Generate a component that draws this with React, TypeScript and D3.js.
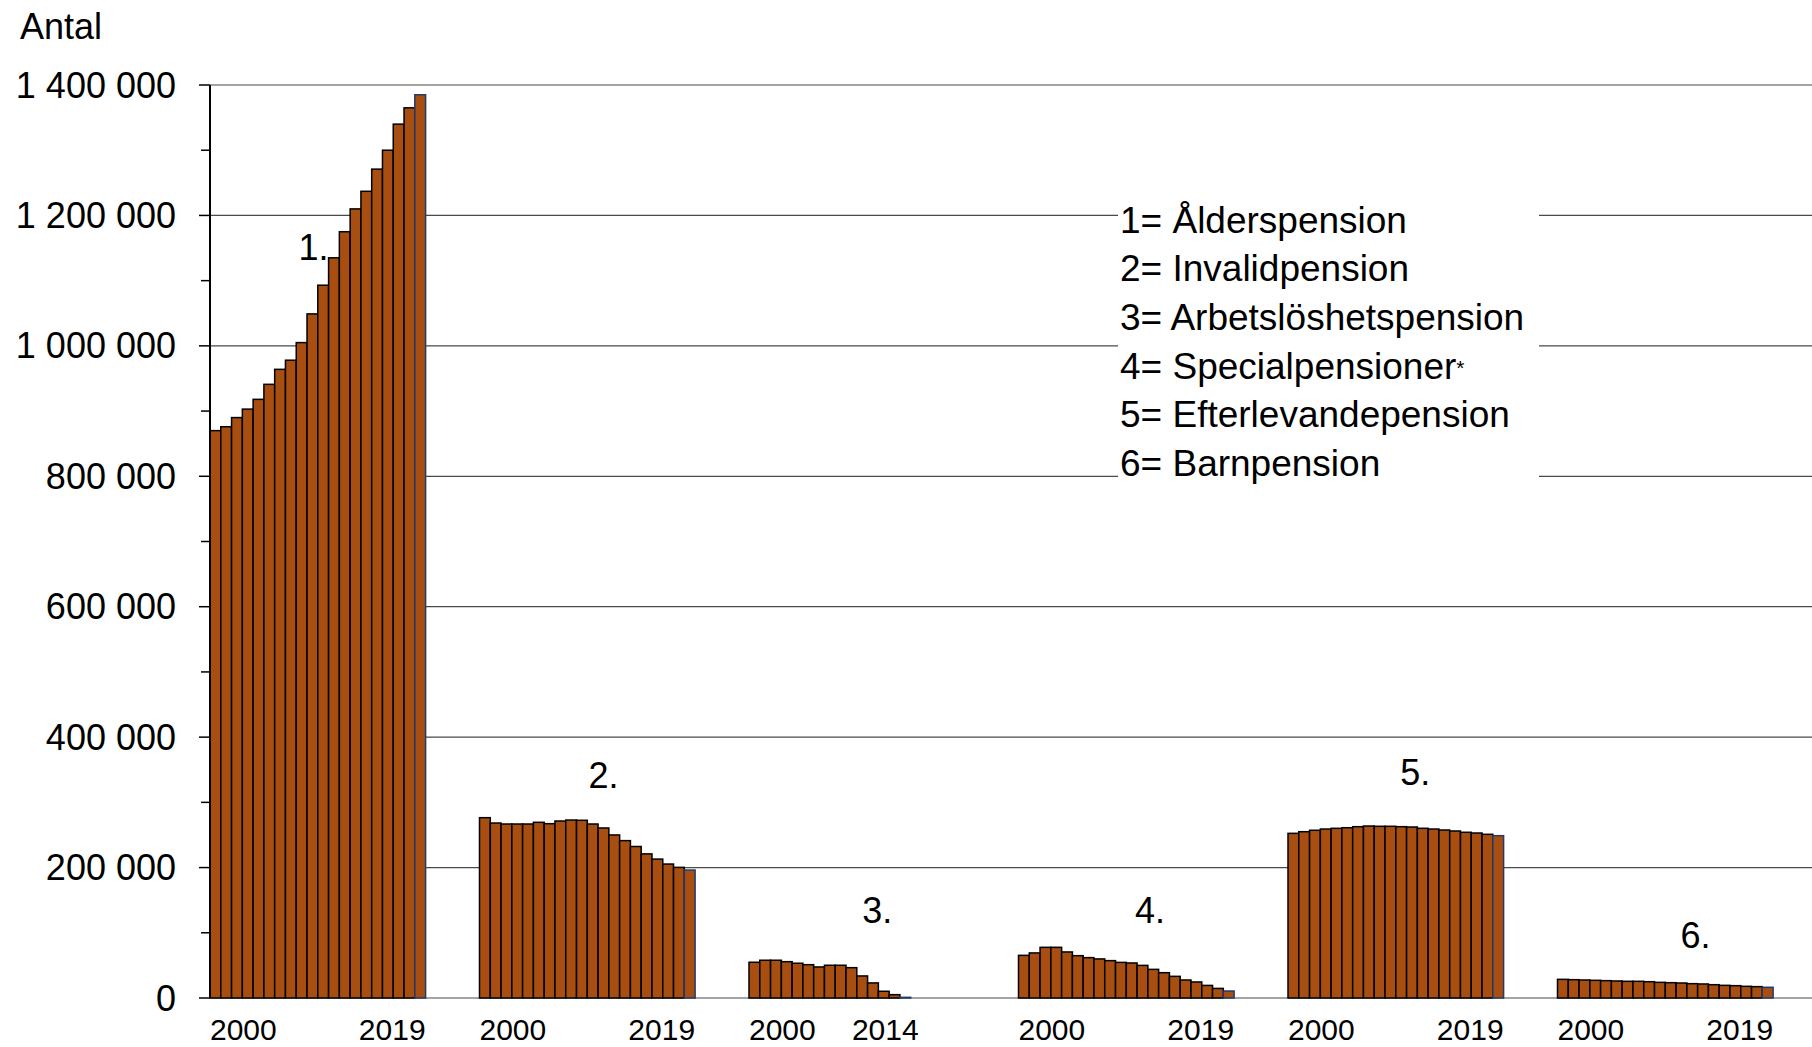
import React from "react";
import * as d3 from "d3";

// ---------- data ----------
const groupNames = ["1.", "2.", "3.", "4.", "5.", "6."];
const legendItems = [
  "1= Ålderspension",
  "2= Invalidpension",
  "3= Arbetslöshetspension",
  "4= Specialpensioner",
  "5= Efterlevandepension",
  "6= Barnpension",
];
const years20 = [
  2000, 2001, 2002, 2003, 2004, 2005, 2006, 2007, 2008, 2009,
  2010, 2011, 2012, 2013, 2014, 2015, 2016, 2017, 2018, 2019,
];
const years15 = [
  2000, 2001, 2002, 2003, 2004, 2005, 2006, 2007, 2008, 2009,
  2010, 2011, 2012, 2013, 2014,
];

const alderspension = [
  870000, 876000, 890000, 903000, 918000, 941000, 964000, 978000, 1005000, 1049000,
  1093000, 1135000, 1175000, 1210000, 1237000, 1271000, 1300000, 1340000, 1365000, 1385000,
];
const invalidpension = [
  276500, 268300, 266800, 266800, 266800, 269400, 267300, 271400, 272900, 272500,
  266800, 260700, 250000, 241300, 232300, 221000, 213000, 205400, 200300, 196200,
];
const arbetsloshetspension = [
  54800, 57900, 57900, 55700, 53300, 51100, 47600, 50200, 50200, 46500,
  33800, 23100, 10300, 5100, 1000,
];
const specialpensioner = [
  65400, 69100, 77700, 77700, 70600, 64900, 61900, 59900, 57300, 54600,
  53700, 50000, 43900, 38800, 33200, 27600, 24600, 19300, 14700, 10700,
];
const efterlevandepension = [
  252500, 255000, 257200, 259100, 260200, 261100, 262700, 263700, 263300, 263300,
  262700, 262200, 260200, 259100, 257600, 256100, 254100, 253000, 251000, 248900,
];
const barnpension = [
  28600, 28100, 27600, 27100, 26600, 26100, 25600, 25600, 25000, 24000,
  23500, 23000, 22000, 21500, 20400, 19400, 18900, 17900, 17400, 16400,
];

const seriesValues = [
  alderspension,
  invalidpension,
  arbetsloshetspension,
  specialpensioner,
  efterlevandepension,
  barnpension,
];
const seriesYears = [years20, years20, years15, years20, years20, years20];

const yTicks = [0, 200000, 400000, 600000, 800000, 1000000, 1200000, 1400000];
const yMinorTicks = [100000, 300000, 500000, 700000, 900000, 1100000, 1300000];

// group label anchors: (slot offset in group, value)
const groupLabelSlot = [9.6, 11.5, 11.9, 12.2, 11.8, 12.8];
const groupLabelValue = [1131600, 322000, 115500, 114500, 327000, 76200];

// ---------- layout ----------
const W = 1812;
const H = 1047;
const SLOTS_PER_GROUP = 25;
const LEFT = 210;
const SLOT_W = 10.78;
const TOP = 85;
const BASE = 998;
const FONT = "'Liberation Sans', Arial, Helvetica, sans-serif";
const BAR_FILL = "#A84E11";

export default function App() {
  const slotKeys: string[] = [];
  groupNames.forEach((_, g) => {
    for (let i = 0; i < SLOTS_PER_GROUP; i++) slotKeys.push(`${g}-${i}`);
  });
  const x = d3
    .scaleBand<string>()
    .domain(slotKeys)
    .range([LEFT, LEFT + slotKeys.length * SLOT_W])
    .paddingInner(0)
    .paddingOuter(0);
  const bw = x.bandwidth();
  const y = d3.scaleLinear().domain([0, 1400000]).range([BASE, TOP]);
  const fmt = (v: number) => d3.format(",")(v).replace(/,/g, " ");

  return (
    <svg
      width={W}
      height={H}
      viewBox={`0 0 ${W} ${H}`}
      style={{ position: "absolute", left: 0, top: 0, background: "#fff" }}
      fontFamily={FONT}
    >
      <rect x={0} y={0} width={W} height={H} fill="#fff" />

      {/* gridlines */}
      {yTicks.map((t) => (
        <line
          key={"g" + t}
          x1={LEFT}
          x2={W}
          y1={y(t)}
          y2={y(t)}
          stroke="#4a4a4a"
          strokeWidth={1.2}
        />
      ))}

      {/* legend box (covers gridlines) */}
      <rect x={1118} y={196} width={421} height={298} fill="#fff" />
      {legendItems.map((txt, i) => (
        <text
          key={"l" + i}
          x={1120}
          y={232.5 + i * 48.7}
          fontSize={37}
          fill="#000"
        >
          {txt}
          {i === 3 ? (
            <tspan fontSize={21} dy={-4}>
              *
            </tspan>
          ) : null}
        </text>
      ))}

      {/* bars */}
      {seriesValues.map((vals, g) =>
        vals.map((v, i) => (
          <rect
            key={`b${g}-${i}`}
            x={x(`${g}-${i}`)}
            y={y(v)}
            width={bw}
            height={y(0) - y(v)}
            fill={BAR_FILL}
            stroke={i === vals.length - 1 ? "#1f3a6b" : "#000"}
            strokeWidth={1.5}
          />
        ))
      )}

      {/* y axis */}
      <line x1={LEFT} x2={LEFT} y1={TOP} y2={BASE} stroke="#000" strokeWidth={2} />
      {yTicks.map((t) => (
        <line key={"t" + t} x1={LEFT - 11} x2={LEFT} y1={y(t)} y2={y(t)} stroke="#000" strokeWidth={1.5} />
      ))}
      {yMinorTicks.map((t) => (
        <line key={"m" + t} x1={LEFT - 9} x2={LEFT} y1={y(t)} y2={y(t)} stroke="#000" strokeWidth={1.5} />
      ))}
      {yTicks.map((t) => (
        <text
          key={"yl" + t}
          x={176}
          y={y(t)}
          dy="0.35em"
          textAnchor="end"
          fontSize={36}
          fill="#000"
        >
          {fmt(t)}
        </text>
      ))}
      <text x={20} y={39} fontSize={36} fill="#000">
        Antal
      </text>

      {/* x labels */}
      {seriesYears.map((yrs, g) => {
        const n = yrs.length;
        const start = x(`${g}-0`) as number;
        const endX = (x(`${g}-${n - 1}`) as number) + bw + (n < 20 ? 8 : 0);
        return (
          <g key={"xl" + g}>
            <text x={start} y={1040} fontSize={30} textAnchor="start" fill="#000">
              {yrs[0]}
            </text>
            <text x={endX} y={1040} fontSize={30} textAnchor="end" fill="#000">
              {yrs[n - 1]}
            </text>
          </g>
        );
      })}

      {/* group labels */}
      {groupNames.map((name, g) => (
        <text
          key={"gl" + g}
          x={(x(`${g}-0`) as number) + groupLabelSlot[g] * bw}
          y={y(groupLabelValue[g])}
          fontSize={36}
          textAnchor="middle"
          fill="#000"
        >
          {name}
        </text>
      ))}
    </svg>
  );
}
